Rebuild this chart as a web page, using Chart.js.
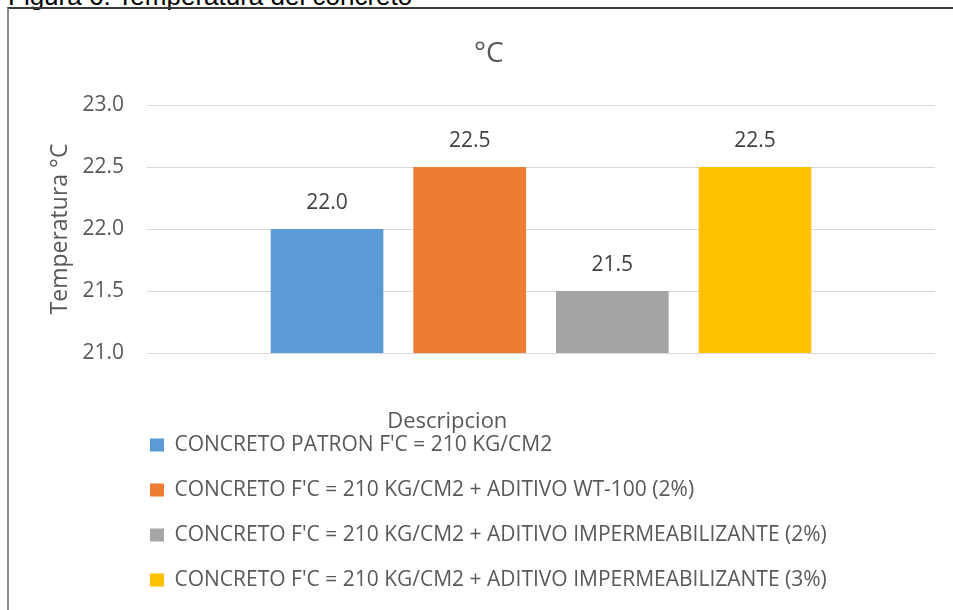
<!DOCTYPE html>
<html>
<head>
<meta charset="utf-8">
<script src="https://cdn.jsdelivr.net/npm/chart.js@4.4.1/dist/chart.umd.min.js"></script>
<style>
    body { margin: 0; background: #fff; }
    #page { position: relative; width: 953px; height: 610px; overflow: hidden; }
    #caption { position: absolute; left: 8px; top: -17px; font: 26px "Liberation Sans", Arial, sans-serif; line-height: 26px; color: #000; white-space: nowrap; }
    #frame { position: absolute; left: 7px; top: 7px; width: 1000px; height: 700px; border-top: 2px solid #3a3a3a; border-left: 2px solid #8c8c8c; }
    #grafico { position: absolute; left: 0; top: 0; }
</style>
</head>
<body>
<div id="page">
    <div id="caption">Figura 6. Temperatura del concreto</div>
    <div id="frame"></div>
    <canvas id="grafico" width="953" height="610"></canvas>
</div>
<script>
"use strict"

// dati
const categorie = [""];
const serie = [
    "CONCRETO PATRON F'C = 210 KG/CM2",
    "CONCRETO F'C = 210 KG/CM2 + ADITIVO WT-100 (2%)",
    "CONCRETO F'C = 210 KG/CM2 + ADITIVO IMPERMEABILIZANTE (2%)",
    "CONCRETO F'C = 210 KG/CM2 + ADITIVO IMPERMEABILIZANTE (3%)"
];
const temperature = [22.0, 22.5, 21.5, 22.5];
const colori = ["#5B9BD5", "#ED7D31", "#A5A5A5", "#FFC000"];
const tickY = [21.0, 21.5, 22.0, 22.5, 23.0];

const grigio = "#595959";
const font = "'Open Sans', sans-serif";

// etichette dei valori sopra le barre
const etichette = {
    id: "etichette",
    afterDatasetsDraw(chart) {
        let ctx = chart.ctx;
        ctx.save();
        ctx.font = "21px " + font;
        ctx.fillStyle = "#404040";
        ctx.textAlign = "center";
        ctx.textBaseline = "middle";
        chart.data.datasets.forEach(function (ds, i) {
            chart.getDatasetMeta(i).data.forEach(function (bar, j) {
                ctx.fillText(ds.data[j].toFixed(1), bar.x, bar.y - 26);
            });
        });
        ctx.restore();
    }
};

// sposta la legenda a sinistra come nell'originale
const spostaLegenda = {
    id: "spostaLegenda",
    afterLayout(chart) {
        chart.legend.left -= 21;
        chart.legend.right -= 21;
    }
};

let datasets = [];
for (let i = 0; i < serie.length; i++) {
    datasets.push({
        label: serie[i],
        data: [temperature[i]],
        backgroundColor: colori[i],
        borderWidth: 0,
        categoryPercentage: 0.724,
        barPercentage: 0.79
    });
}

new Chart(document.getElementById("grafico"), {
    type: "bar",
    data: { labels: categorie, datasets: datasets },
    plugins: [etichette, spostaLegenda],
    options: {
        responsive: false,
        animation: false,
        layout: { padding: { left: 0, right: 18, top: 0, bottom: 9.5 } },
        plugins: {
            title: {
                display: true,
                text: "\u2003\u00a0\u00a0°C",
                color: grigio,
                font: { family: font, size: 28, weight: "normal" },
                padding: { top: 37, bottom: 34.4 }
            },
            legend: {
                position: "bottom",
                align: "start",
                fullSize: false,
                labels: {
                    color: grigio,
                    font: { family: font, size: 21 },
                    boxWidth: 14,
                    boxHeight: 13,
                    padding: 24
                }
            },
            tooltip: { enabled: false }
        },
        scales: {
            x: {
                grid: { display: false, drawTicks: false },
                border: { display: false },
                ticks: { display: false },
                title: {
                    display: true,
                    text: "Descripcion" + "\u2003".repeat(8) + "\u00a0\u00a0",
                    color: grigio,
                    font: { family: font, size: 22 },
                    padding: { top: 55.8, bottom: -24.7 }
                }
            },
            y: {
                min: tickY[0],
                max: tickY[tickY.length - 1],
                afterFit: function (scale) { scale.width = 147; },
                afterBuildTicks: function (scale) {
                    scale.ticks = tickY.map(function (v) { return { value: v }; });
                },
                grid: { color: "#D9D9D9", lineWidth: 1, drawTicks: false },
                border: { display: false },
                ticks: {
                    color: grigio,
                    font: { family: font, size: 21 },
                    padding: 23,
                    callback: function (v) { return Number(v).toFixed(1); }
                },
                title: {
                    display: true,
                    text: "Temperatura °C",
                    color: grigio,
                    font: { family: font, size: 23 },
                    padding: { top: 47, bottom: 0 }
                }
            }
        }
    }
});
</script>
</body>
</html>
